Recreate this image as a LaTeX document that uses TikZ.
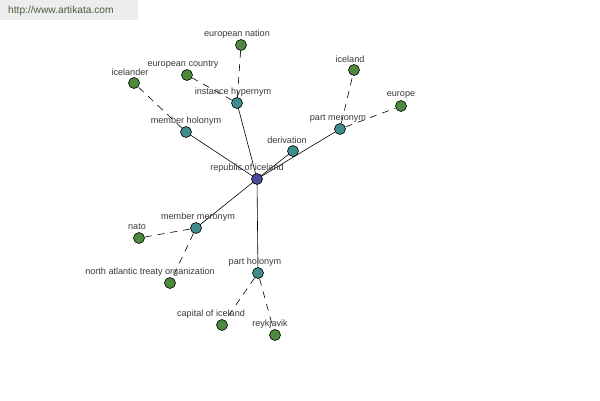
\documentclass[tikz,border=0pt]{standalone}
\usepackage{fontspec}
\setmainfont{Liberation Sans}
\begin{document}
\begin{tikzpicture}[x=1pt,y=-1pt,
  dot/.style={circle,draw=black,line width=0.6pt,minimum size=11pt,inner sep=0pt},
  hub/.style={dot,fill=hubc},
  rel/.style={dot,fill=relc},
  leaf/.style={dot,fill=leafc},
  lbl/.style={font=\fontsize{9.1}{10}\selectfont,text=txtc,inner sep=0pt},
  solidedge/.style={draw=black,line width=0.6pt},
  dashedge/.style={draw=black,line width=0.6pt,dash pattern=on 7pt off 6pt,shorten <=6pt,shorten >=6pt}]
\definecolor{hubc}{HTML}{4A4A98}
\definecolor{relc}{HTML}{3E8C8C}
\definecolor{leafc}{HTML}{4E8A3E}
\definecolor{txtc}{HTML}{3A3A3A}
\definecolor{hdrbg}{HTML}{EDEDED}
\definecolor{hdrtxt}{HTML}{4B5E3C}
\useasboundingbox[fill=white] (0,0) rectangle (600,400);
\fill[hdrbg] (0,0) rectangle (138,20);
\node[font=\fontsize{10.2}{11}\selectfont,text=hdrtxt,anchor=west,inner sep=0pt] (hdr) at (8,10.5) {http://www.artikata.com};
% edges first
\coordinate (c) at (257,179);
\coordinate (ih) at (237,103);
\coordinate (en) at (241,45);
\coordinate (ec) at (187,75);
\coordinate (mh) at (186,132);
\coordinate (ic) at (134,83);
\coordinate (dv) at (293,151);
\coordinate (pm) at (340,129);
\coordinate (il) at (354,70);
\coordinate (eu) at (401,106);
\coordinate (mm) at (196,228);
\coordinate (na) at (139,238);
\coordinate (nt) at (170,283);
\coordinate (ph) at (258,273);
\coordinate (ci) at (222,325);
\coordinate (re) at (275,335);
\draw[solidedge] (c) -- (ih);
\draw[solidedge] (c) -- (mh);
\draw[solidedge] (c) -- (dv);
\draw[solidedge] (c) -- (pm);
\draw[solidedge] (c) -- (mm);
\draw[solidedge] (c) -- (ph);
\draw[dashedge] (ih) -- (en);
\draw[dashedge] (ih) -- (ec);
\draw[dashedge] (mh) -- (ic);
\draw[dashedge] (pm) -- (il);
\draw[dashedge] (pm) -- (eu);
\draw[dashedge] (mm) -- (na);
\draw[dashedge] (mm) -- (nt);
\draw[dashedge] (ph) -- (ci);
\draw[dashedge] (ph) -- (re);
% nodes
\node[hub] (nc) at (c) {};
\node[rel] (nih) at (ih) {};
\node[rel] (nmh) at (mh) {};
\node[rel] (ndv) at (dv) {};
\node[rel] (npm) at (pm) {};
\node[rel] (nmm) at (mm) {};
\node[rel] (nph) at (ph) {};
\node[leaf] (nen) at (en) {};
\node[leaf] (nec) at (ec) {};
\node[leaf] (nic) at (ic) {};
\node[leaf] (nil) at (il) {};
\node[leaf] (neu) at (eu) {};
\node[leaf] (nna) at (na) {};
\node[leaf] (nnt) at (nt) {};
\node[leaf] (nci) at (ci) {};
\node[leaf] (nre) at (re) {};
% labels
\node[lbl] (lc) at (247,168) {republic of iceland};
\node[lbl] (lih) at (233,92) {instance hypernym};
\node[lbl] (len) at (237,34) {european nation};
\node[lbl] (lec) at (183,64) {european country};
\node[lbl] (lmh) at (186,121) {member holonym};
\node[lbl] (lic) at (130,72) {icelander};
\node[lbl] (ldv) at (287,140) {derivation};
\node[lbl] (lpm) at (338,118) {part meronym};
\node[lbl] (lil) at (350,59) {iceland};
\node[lbl] (leu) at (401,95) {europe};
\node[lbl] (lmm) at (198,217) {member meronym};
\node[lbl] (lna) at (137,227) {nato};
\node[lbl] (lnt) at (150,272) {north atlantic treaty organization};
\node[lbl] (lph) at (255,262) {part holonym};
\node[lbl] (lci) at (211,314) {capital of iceland};
\node[lbl] (lre) at (270,324) {reykjavik};
\end{tikzpicture}
\end{document}
